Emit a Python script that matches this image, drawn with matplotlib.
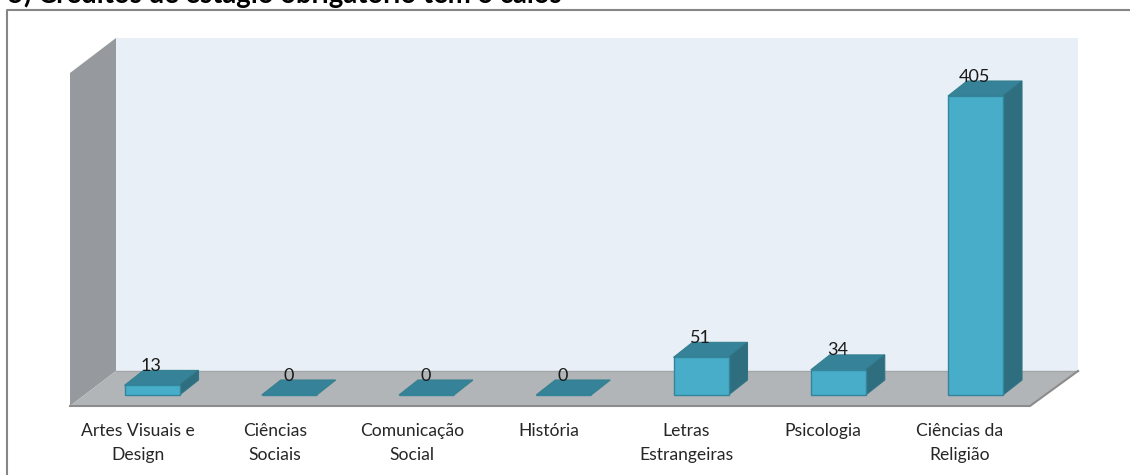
import matplotlib
matplotlib.use('Agg')
import matplotlib.pyplot as plt
from matplotlib.patches import Polygon
from matplotlib.transforms import Affine2D

categorias = ['Artes Visuais e\nDesign', 'Ciências\nSociais', 'Comunicação\nSocial', 'História',
              'Letras\nEstrangeiras', 'Psicologia', 'Ciências da\nReligião']
valores = [13, 0, 0, 0, 51, 34, 405]
titulo = '5) Créditos de estágio obrigatório têm o caíos'

plt.rcParams['font.family'] = ['Lato', 'DejaVu Sans']

LARG, ALT = 1130, 475
fig = plt.figure(figsize=(LARG / 100, ALT / 100), dpi=100)
ax = fig.add_axes([0, 0, 1, 1])
ax.axis('off')

# escala dos dados : categoria -> px, valor -> px
px_cat = 137.25
px_val = 299 / 405
x0, y0 = 152, 395
ax.set_xlim(-x0 / px_cat, (LARG - x0) / px_cat)
ax.set_ylim((y0 - ALT) / px_val, y0 / px_val)

# camada em pixels da imagem (origem em cima)
px = Affine2D().scale(1, -1).translate(0, ALT)

def poly(pontos, cor, z=1):
    ax.add_patch(Polygon(pontos, closed=True, facecolor=cor, edgecolor='none', transform=px, zorder=z))

# moldura
ax.plot([7, 7, LARG], [ALT, 10, 10], color='#868686', lw=1.5, transform=px, zorder=1, clip_on=False)

# paredes e chao
poly([(116, 38), (1078, 38), (1078, 371), (116, 371)], '#e8eff6')
poly([(70, 73), (116, 38), (116, 371), (70, 406)], '#96999d')
poly([(116, 371), (1078, 371), (1030, 406), (70, 406)], '#b1b5b8')
ax.plot([116, 1078], [371, 371], color='#a3a6a9', lw=1, transform=px, zorder=1.5)
ax.plot([70, 1030, 1078], [406, 406, 371], color='#8c8c8c', lw=1.5, transform=px, zorder=1.5)

# barras
larg_barra = 55 / px_cat
dx = 19 / px_cat
dy = 15 / px_val
for i, v in enumerate(valores):
    e = i - larg_barra / 2
    d = i + larg_barra / 2
    ax.add_patch(Polygon([(e, v), (d, v), (d + dx, v + dy), (e + dx, v + dy)], closed=True,
                         facecolor='#368399', edgecolor='#35808f', linewidth=0.8, zorder=3))
    if v > 0:
        ax.add_patch(Polygon([(d, 0), (d + dx, dy), (d + dx, v + dy), (d, v)], closed=True,
                             facecolor='#2f6e7f', edgecolor='#2f7385', linewidth=0.8, zorder=3))
ax.bar(range(len(valores)), valores, width=larg_barra, color='#47adc9', edgecolor='#34859b',
       linewidth=1, zorder=4)

# rotulos dos dados
for i, v in enumerate(valores):
    ax.annotate(str(v), (i, v), xytext=(-0.5, 14), textcoords='offset points', ha='center', va='center',
                fontsize=13, color='#1a1a1a', zorder=5)

# categorias
for i, c in enumerate(categorias):
    xp = 138 + i * 137
    ax.text(xp, 423, c, transform=px, ha='center', va='top', fontsize=12.6, color='#262626', linespacing=1.62)

# titulo, cortado pela borda de cima
ax.text(8, 3, titulo, transform=px, ha='left', va='baseline', fontsize=19.8, fontweight='bold', color='black')

fig.savefig('out.png', dpi=100)
